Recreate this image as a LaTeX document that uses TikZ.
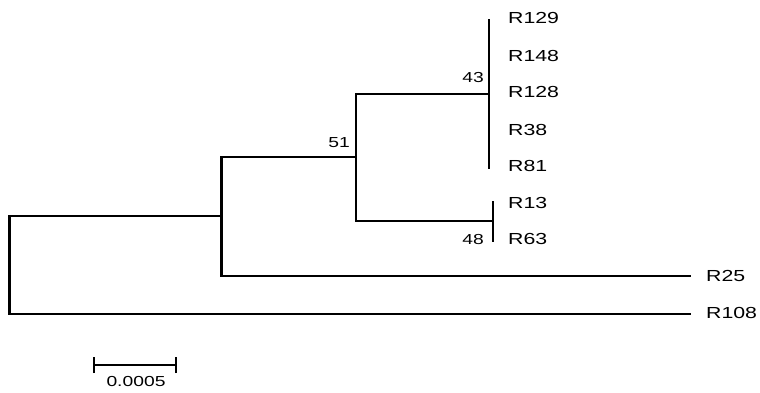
\documentclass[tikz,border=0pt]{standalone}
\usepackage{fontspec}
\setmainfont{Liberation Sans}
\begin{document}
\begin{tikzpicture}[x=1pt,y=-1pt,
  branch/.style={line width=2.7pt, line cap=rect},
  taxon/.style={anchor=west, inner sep=0pt, font=\fontsize{16}{16}\selectfont},
  support/.style={inner sep=0pt, font=\fontsize{14.5}{14.5}\selectfont}]
  \useasboundingbox (0,0) rectangle (760,392);
  \newcommand{\wide}[1]{\scalebox{1.33}[1]{#1}}
  % internal nodes of the tree
  \coordinate (rt) at (9.5,216);
  \coordinate (rb) at (9.5,314);
  \coordinate (n1) at (221.5,216);
  \coordinate (n1t) at (221.5,157);
  \coordinate (n1b) at (221.5,276);
  \coordinate (n2) at (356,157);
  \coordinate (n2t) at (356,94);
  \coordinate (n2b) at (356,221);
  \coordinate (n3) at (489,94);
  \coordinate (n3t) at (489,20);
  \coordinate (n3b) at (489,168);
  \coordinate (n4) at (493,221);
  \coordinate (n4t) at (493,202);
  \coordinate (n4b) at (493,241);
  \coordinate (e25) at (690,276);
  \coordinate (e108) at (690,314);
  % taxa
  \node[taxon] (t129) at (508,18) {\wide{R129}};
  \node[taxon] (t148) at (508,56) {\wide{R148}};
  \node[taxon] (t128) at (508,92) {\wide{R128}};
  \node[taxon] (t38)  at (508,130) {\wide{R38}};
  \node[taxon] (t81)  at (508,166) {\wide{R81}};
  \node[taxon] (t13)  at (508,203) {\wide{R13}};
  \node[taxon] (t63)  at (508,239) {\wide{R63}};
  \node[taxon] (t25)  at (706,276) {\wide{R25}};
  \node[taxon] (t108) at (706,313) {\wide{R108}};
  % branches
  \draw[branch] (rt) -- (rb);
  \draw[branch] (rt) -- (n1);
  \draw[branch] (rb) -- (e108);
  \draw[branch] (n1t) -- (n1b);
  \draw[branch] (n1b) -- (e25);
  \draw[branch] (n1t) -- (n2);
  \draw[branch] (n2t) -- (n2b);
  \draw[branch] (n2t) -- (n3);
  \draw[branch] (n2b) -- (n4);
  \draw[branch] (n3t) -- (n3b);
  \draw[branch] (n4t) -- (n4b);
  % bootstrap values
  \node[support] (b51) at (339,143) {\wide{51}};
  \node[support] (b43) at (473,78) {\wide{43}};
  \node[support] (b48) at (473,240) {\wide{48}};
  % scale bar
  \coordinate (s1) at (94,365);
  \coordinate (s2) at (176,365);
  \draw[line width=2.7pt] (s1) -- (s2);
  \draw[line width=2.7pt] ([yshift=-8]s1) -- ([yshift=8]s1);
  \draw[line width=2.7pt] ([yshift=-8]s2) -- ([yshift=8]s2);
  \node[support] (scale) at (136,381) {\wide{0.0005}};
\end{tikzpicture}
\end{document}
